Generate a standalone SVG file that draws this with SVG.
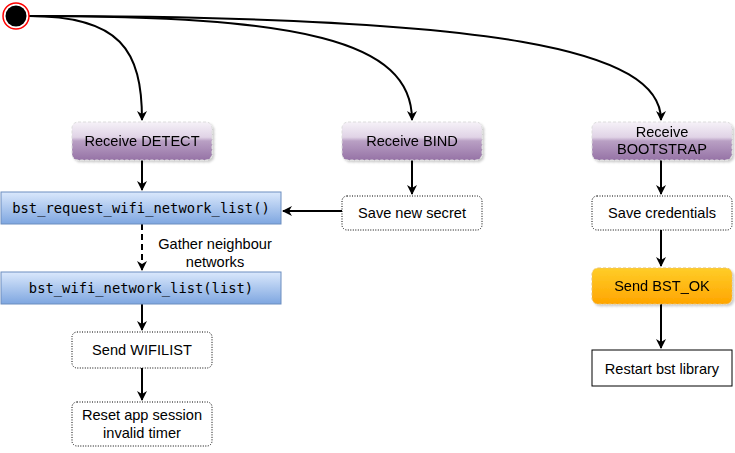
<svg xmlns="http://www.w3.org/2000/svg" width="735" height="453" viewBox="0 0 735 453">
<style>
.t{font-family:"Liberation Sans",Arial,sans-serif;font-size:14.6px;fill:#000;text-anchor:middle}
.m{font-family:"DejaVu Sans Mono","Liberation Mono",monospace;font-size:13.8px;fill:#000;text-anchor:middle}
.c{fill:none;stroke:#000;stroke-width:2}
.dot{fill:#fff;stroke:#000;stroke-width:1;stroke-dasharray:1 1.5}
.pur{fill:url(#gp);stroke:#dcdcdc;stroke-width:1;stroke-dasharray:3 2}
.blu{fill:url(#gb);stroke:#6c8ebf;stroke-width:1}
</style>
<defs>
<linearGradient id="gp" x1="0" y1="0" x2="0" y2="1">
<stop offset="0" stop-color="#f6f2f8"/><stop offset="0.4" stop-color="#e0d3e6"/><stop offset="0.5" stop-color="#b9a0c4"/><stop offset="1" stop-color="#9673a6"/>
</linearGradient>
<linearGradient id="gb" x1="0" y1="0" x2="0" y2="1">
<stop offset="0" stop-color="#dae8fc"/><stop offset="1" stop-color="#7ea6e0"/>
</linearGradient>
<linearGradient id="go" x1="0" y1="0" x2="0" y2="1">
<stop offset="0" stop-color="#ffcd28"/><stop offset="1" stop-color="#ffa500"/>
</linearGradient>
<filter id="sh" x="-10%" y="-20%" width="130%" height="150%">
<feDropShadow dx="2" dy="2" stdDeviation="1.2" flood-color="#000" flood-opacity="0.2"/>
</filter>
<marker id="a" viewBox="0 0 10 10" refX="9" refY="5" markerWidth="5" markerHeight="5" orient="auto" markerUnits="strokeWidth">
<path d="M0,0 L10,5 L0,10 L3,5 Z" fill="#000"/>
</marker>
</defs>
<g id="connectors">
<path class="c" d="M29,16 C120,16 142,50 142,120" marker-end="url(#a)"/>
<path class="c" d="M29,16 C300,16 412,40 412,120" marker-end="url(#a)"/>
<path class="c" d="M29,16 C500,16 661,50 661,120" marker-end="url(#a)"/>
<path class="c" d="M142,160 L142,190" marker-end="url(#a)"/>
<path class="c" d="M142,224 L142,270" stroke-dasharray="6 4" marker-end="url(#a)"/>
<text class="t" x="215" y="249">Gather neighbour</text>
<text class="t" x="215" y="267">networks</text>
<path class="c" d="M412,160 L412,194" marker-end="url(#a)"/>
<path class="c" d="M342,211 L283,211" marker-end="url(#a)"/>
<path class="c" d="M142,304 L142,330" marker-end="url(#a)"/>
<path class="c" d="M142,368 L142,400" marker-end="url(#a)"/>
<path class="c" d="M661,160 L661,194" marker-end="url(#a)"/>
<path class="c" d="M661,230 L661,266" marker-end="url(#a)"/>
<path class="c" d="M661,304 L661,348" marker-end="url(#a)"/>
</g>
<g id="start">
<circle cx="16" cy="16" r="13" fill="#fff" stroke="#ff0000" stroke-width="1.5"/>
<circle cx="16" cy="16" r="10.5" fill="#000"/>
</g>
<g id="recv-detect" filter="url(#sh)">
<rect class="pur" x="72" y="122" width="140" height="38" rx="6"/>
<text class="t" x="142" y="146">Receive DETECT</text>
</g>
<g id="recv-bind" filter="url(#sh)">
<rect class="pur" x="342" y="122" width="140" height="38" rx="6"/>
<text class="t" x="412" y="146">Receive BIND</text>
</g>
<g id="recv-bootstrap" filter="url(#sh)">
<rect class="pur" x="592" y="122" width="140" height="38" rx="6"/>
<text class="t" x="662" y="137">Receive</text>
<text class="t" x="662" y="154">BOOTSTRAP</text>
</g>
<g id="req-list">
<rect class="blu" x="1" y="192" width="280" height="32"/>
<text class="m" x="141" y="213">bst_request_wifi_network_list()</text>
</g>
<g id="wifi-list">
<rect class="blu" x="1" y="272" width="280" height="32"/>
<text class="m" x="141" y="293">bst_wifi_network_list(list)</text>
</g>
<g id="save-secret">
<rect class="dot" x="342" y="196" width="140" height="34" rx="5"/>
<text class="t" x="412" y="218">Save new secret</text>
</g>
<g id="save-cred">
<rect class="dot" x="592" y="196" width="140" height="34" rx="5"/>
<text class="t" x="662" y="218">Save credentials</text>
</g>
<g id="send-ok" filter="url(#sh)">
<rect x="592" y="268" width="140" height="36" rx="6" fill="url(#go)" stroke="#e8c070" stroke-width="1" stroke-dasharray="3 2"/>
<text class="t" x="662" y="291">Send BST_OK</text>
</g>
<g id="restart">
<rect x="592" y="350" width="140" height="36" fill="#fff" stroke="#000" stroke-width="1"/>
<text class="t" x="662" y="374">Restart bst library</text>
</g>
<g id="send-wifilist">
<rect class="dot" x="72" y="332" width="140" height="36" rx="5"/>
<text class="t" x="142" y="355">Send WIFILIST</text>
</g>
<g id="reset-timer">
<rect class="dot" x="72" y="402" width="140" height="44" rx="5"/>
<text class="t" x="142" y="420">Reset app session</text>
<text class="t" x="142" y="438">invalid timer</text>
</g>
</svg>
